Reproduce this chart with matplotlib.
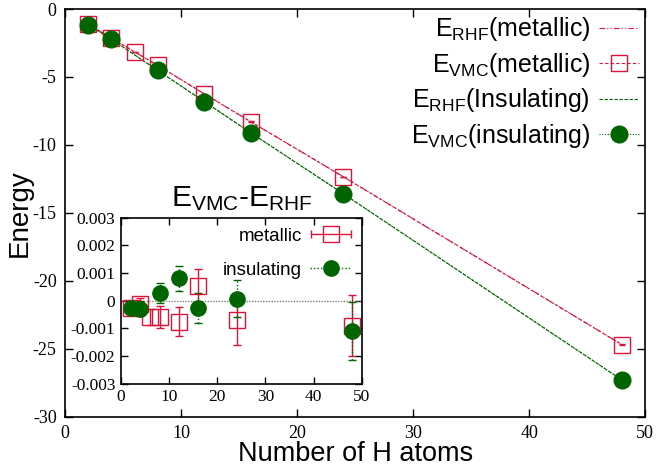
import matplotlib
matplotlib.use('Agg')
import matplotlib.pyplot as plt
from matplotlib.lines import Line2D
from matplotlib.legend_handler import HandlerErrorbar
import numpy as np

plt.rcParams['mathtext.fontset'] = 'custom'
plt.rcParams['mathtext.rm'] = 'Liberation Sans'
plt.rcParams['mathtext.it'] = 'Liberation Sans'
plt.rcParams['axes.unicode_minus'] = False

# main panel: total energies
n_met = [2, 4, 6, 8, 12, 16, 24, 48]
e_vmc_met = [-1.12, -2.13, -3.16, -4.15, -6.24, -8.29, -12.35, -24.7]
n_ins = [2, 4, 8, 12, 16, 24, 48]
e_vmc_ins = [-1.14, -2.23, -4.52, -6.81, -9.10, -13.6, -27.3]

# inset: E_VMC - E_RHF
d_met = [-0.00025, -0.00012, -0.00058, -0.00058, -0.00076, 0.00055, -0.00071, -0.0009]
d_met_err = [0.0001, 0.00023, 0.0003, 0.0004, 0.00052, 0.00059, 0.00087, 0.0011]
d_ins = [-0.00025, -0.00029, 0.00029, 0.00081, -0.00025, 0.00008, -0.0011]
d_ins_err = [0.0001, 0.00027, 0.00036, 0.00046, 0.00054, 0.00066, 0.00105]

main_xticks = [0, 10, 20, 30, 40, 50]
main_yticks = [-30, -25, -20, -15, -10, -5, 0]
ins_yticks = [-0.003, -0.002, -0.001, 0, 0.001, 0.002, 0.003]
ins_ylabels = ['-0.003', '-0.002', '-0.001', '0', '0.001', '0.002', '0.003']

e_rhf_met = [e - d for e, d in zip(e_vmc_met, d_met)]
e_rhf_ins = [e - d for e, d in zip(e_vmc_ins, d_ins)]

red = '#dc143c'
green = '#006400'
serif = ['Liberation Serif', 'DejaVu Serif']
sans = 'Liberation Sans'

fig = plt.figure(figsize=(6.59, 4.67), dpi=100)
ax = fig.add_axes([0.0986, 0.1077, 0.8804, 0.873])

ax.plot(n_met, e_rhf_met, color=red, lw=0.8, dashes=(5, 2, 1, 2, 1, 2))
ax.errorbar(n_met, e_vmc_met, yerr=[0.02] * len(n_met), color=red, lw=0.8,
            ls=(0, (3, 2)), marker='s', ms=12, mfc='none', mew=1.0, capsize=2)
ax.plot(n_ins, e_rhf_ins, color=green, lw=0.8, ls=(0, (3, 1.5)))
ax.errorbar(n_ins, e_vmc_ins, yerr=[0.02] * len(n_ins), color=green, lw=0.8,
            ls=(0, (1, 1.5)), marker='o', ms=12, capsize=2)

ax.set_xlim(0, 50)
ax.set_ylim(-30, 0)
ax.set_xticks(main_xticks)
ax.set_xticklabels([str(v) for v in main_xticks], family=serif, fontsize=13)
ax.set_yticks(main_yticks)
ax.set_yticklabels([str(v) for v in main_yticks], family=serif, fontsize=13)
ax.tick_params(direction='in', top=True, right=True, length=6, width=1, pad=6)
for s in ax.spines.values():
    s.set_linewidth(1.2)
ax.set_xlabel('Number of H atoms', fontsize=19.5, family=sans, labelpad=-1)
ax.set_ylabel('Energy', fontsize=20, family=sans, labelpad=0)

handles = [
    Line2D([], [], color=red, lw=0.8, dashes=(5, 2, 1, 2, 1, 2)),
    Line2D([], [], color=red, lw=0.8, ls=(0, (3, 2)), marker='s', ms=12, mfc='none'),
    Line2D([], [], color=green, lw=0.8, ls=(0, (3, 1.5))),
    Line2D([], [], color=green, lw=0.8, ls=(0, (1, 1.5)), marker='o', ms=12),
]
labels = [r'$\mathrm{E_{RHF}}$(metallic)', r'$\mathrm{E_{VMC}}$(metallic)',
          r'$\mathrm{E_{RHF}}$(Insulating)', r'$\mathrm{E_{VMC}}$(insulating)']
ax.legend(handles, labels, loc='upper right', frameon=False, markerfirst=False,
          prop={'family': sans, 'size': 18}, handlelength=1.6, handletextpad=0.35,
          labelspacing=0.3, borderpad=0.1, borderaxespad=0.15)

# inset
ins = fig.add_axes([0.1836, 0.178, 0.3654, 0.356])
ins.axhline(0, color='grey', lw=1, ls=(0, (1, 1)))
ins.errorbar(n_met, d_met, yerr=d_met_err, color=red, lw=0, elinewidth=1,
             marker='s', ms=12, mfc='none', mew=1.0, capsize=3)
eb = ins.errorbar(n_ins, d_ins, yerr=d_ins_err, color=green, lw=0, elinewidth=1,
                  marker='o', ms=11, capsize=3)
eb[2][0].set_linestyle((0, (1, 1.5)))
ins.set_xlim(0, 50)
ins.set_ylim(-0.003, 0.003)
ins.set_xticks(main_xticks)
ins.set_xticklabels([str(v) for v in main_xticks], family=serif, fontsize=12.5)
ins.set_yticks(ins_yticks)
ins.set_yticklabels(ins_ylabels, family=serif, fontsize=12.5)
ins.tick_params(direction='in', top=True, right=True, length=5, width=1, pad=4)
for s in ins.spines.values():
    s.set_linewidth(1.2)
ins.set_title(r'$\mathrm{E_{VMC}}$-$\mathrm{E_{RHF}}$', fontsize=21.5,
              family=sans, pad=8)

# legend handles only (NaN data, nothing drawn)
h_met = ins.errorbar([np.nan], [np.nan], xerr=[1], color=red, lw=0, elinewidth=1,
                     marker='s', ms=12, mfc='none', mew=1.0, capsize=3)
h_ins = Line2D([], [], color=green, lw=1, ls=(0, (1, 1.5)), marker='o', ms=11)
ins.legend([h_met, h_ins], ['metallic', 'insulating'], loc='upper right',
           frameon=False, markerfirst=False,
           prop={'family': sans, 'size': 13.5},
           handlelength=2.2, handletextpad=0.45, labelspacing=0.9,
           borderpad=0.1, borderaxespad=0.45,
           handler_map={h_met: HandlerErrorbar(xerr_size=1.05)})

fig.savefig('out.png', dpi=100)
